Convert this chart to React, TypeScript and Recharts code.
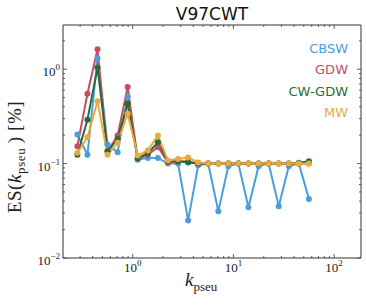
import React from "react";
import { LineChart, Line, XAxis, YAxis, ReferenceArea } from "recharts";

// k_pseu sample points (log spaced)
const K = [
  0.282, 0.355, 0.447, 0.562, 0.708, 0.891, 1.12, 1.41, 1.78, 2.24, 2.82, 3.55,
  4.47, 5.62, 7.08, 8.91, 11.2, 14.1, 17.8, 22.4, 28.2, 35.5, 44.7, 56.2,
];

const CBSW = [
  0.203, 0.124, 1.31, 0.159, 0.132, 0.515, 0.11, 0.115, 0.115, 0.1, 0.1, 0.025,
  0.096, 0.1, 0.0313, 0.094, 0.1, 0.0345, 0.094, 0.1, 0.0353, 0.094, 0.1, 0.0423,
];
const GDW = [
  0.153, 0.55, 1.63, 0.135, 0.198, 0.647, 0.112, 0.124, 0.15, 0.103, 0.105,
  0.106, 0.1, 0.1, 0.1, 0.1, 0.1, 0.1, 0.1, 0.1, 0.1, 0.1, 0.1, 0.1,
];
const CWGDW = [
  0.124, 0.292, 1.04, 0.135, 0.183, 0.43, 0.115, 0.128, 0.168, 0.106, 0.106,
  0.103, 0.1, 0.1, 0.1, 0.1, 0.1, 0.1, 0.1, 0.1, 0.1, 0.1, 0.102, 0.106,
];
const MW = [
  0.13, 0.19, 0.457, 0.124, 0.166, 0.338, 0.122, 0.138, 0.198, 0.108, 0.112,
  0.116, 0.103, 0.1, 0.1, 0.1, 0.1, 0.1, 0.1, 0.1, 0.1, 0.1, 0.1, 0.1,
];

const X_TICKS = [
  0.3, 0.4, 0.5, 0.6, 0.7, 0.8, 0.9, 1, 2, 3, 4, 5, 6, 7, 8, 9, 10, 20, 30, 40,
  50, 60, 70, 80, 90, 100,
];
const Y_TICKS = [
  0.01, 0.02, 0.03, 0.04, 0.05, 0.06, 0.07, 0.08, 0.09, 0.1, 0.2, 0.3, 0.4, 0.5,
  0.6, 0.7, 0.8, 0.9, 1, 2,
];

const X_DOMAIN = [0.203, 185];
const Y_DOMAIN = [0.01, 2.94];

const SERIES = [
  { key: "CBSW", name: "CBSW", color: "#4a9edb" },
  { key: "GDW", name: "GDW", color: "#c84c62" },
  { key: "CWGDW", name: "CW-GDW", color: "#1f6e3b" },
  { key: "MW", name: "MW", color: "#eaaa3e" },
];

const data = K.map((k, i) => ({
  k,
  CBSW: CBSW[i],
  GDW: GDW[i],
  CWGDW: CWGDW[i],
  MW: MW[i],
}));

const W = 366;
const H = 306;
const PLOT = { left: 63, right: 361, top: 25, bottom: 258 };
const SERIF = "'Liberation Serif', serif";
const SANS = "'DejaVu Sans', sans-serif";
const AXIS = "#333";

const isMajor = (v: number) =>
  Math.abs(Math.log10(v) - Math.round(Math.log10(v))) < 1e-9;

function XTick({ x, y, payload }: any) {
  const v = payload.value;
  const major = isMajor(v);
  const len = major ? 4 : 2;
  return (
    <g>
      <line x1={x} x2={x} y1={y} y2={y - len} stroke={AXIS} strokeWidth={0.8} />
      <line x1={x} x2={x} y1={PLOT.top} y2={PLOT.top + len} stroke={AXIS} strokeWidth={0.8} />
      {major && (
        <text x={x} y={y + 14} textAnchor="middle" fontFamily={SERIF} fontSize={13} fill="#222">
          <tspan>10</tspan>
          <tspan dy={-6} fontSize={9}>{Math.round(Math.log10(v))}</tspan>
        </text>
      )}
    </g>
  );
}

function YTick({ x, y, payload }: any) {
  const v = payload.value;
  const major = isMajor(v);
  const len = major ? 4 : 2;
  const exp = Math.round(Math.log10(v));
  return (
    <g>
      <line x1={x} x2={x + len} y1={y} y2={y} stroke={AXIS} strokeWidth={0.8} />
      <line x1={PLOT.right} x2={PLOT.right - len} y1={y} y2={y} stroke={AXIS} strokeWidth={0.8} />
      {major && (
        <text x={x - 3} y={y + 7} textAnchor="end" fontFamily={SERIF} fontSize={13} fill="#222">
          <tspan>10</tspan>
          <tspan dy={-6} fontSize={9}>{exp < 0 ? "\u2212" + Math.abs(exp) : exp}</tspan>
        </text>
      )}
    </g>
  );
}

// x-axis title plus the coloured series names (matplotlib-style text legend)
function XLabel() {
  return (
    <g>
      <text x={185} y={286} fontFamily={SERIF} fill="#222">
        <tspan fontSize={19} fontStyle="italic">k</tspan>
        <tspan fontSize={13} dy={5}>pseu</tspan>
      </text>
      {SERIES.map((s, i) => (
        <text
          key={s.key}
          x={348}
          y={53 + i * 21.3}
          textAnchor="end"
          fontFamily={SANS}
          fontSize={13}
          fill={s.color}
        >
          {s.name}
        </text>
      ))}
    </g>
  );
}

function YLabel() {
  return (
    <text
      x={0}
      y={0}
      transform="translate(21,157) rotate(-90)"
      textAnchor="middle"
      fontFamily={SERIF}
      fontSize={19}
      letterSpacing={0.6}
      fill="#222"
    >
      <tspan>ES(</tspan>
      <tspan fontStyle="italic">k</tspan>
      <tspan fontSize={13} dy={4}>pseu</tspan>
      <tspan dy={-4}>{"\u2009) [%]"}</tspan>
    </text>
  );
}

export default function App() {
  return (
    <div style={{ position: "absolute", left: 0, top: 0, width: W, height: H, background: "#fff" }}>
      <div
        style={{
          position: "absolute",
          left: PLOT.left,
          width: PLOT.right - PLOT.left,
          top: 6,
          textAlign: "center",
          fontFamily: SANS,
          fontSize: 17,
          lineHeight: "17px",
          color: "#111",
        }}
      >
        V97CWT
      </div>
      <LineChart
        width={W}
        height={H}
        data={data}
        margin={{ top: PLOT.top, right: W - PLOT.right, bottom: 0, left: 0 }}
      >
        <XAxis
          dataKey="k"
          type="number"
          scale="log"
          domain={X_DOMAIN}
          allowDataOverflow
          ticks={X_TICKS}
          interval={0}
          tick={<XTick />}
          tickLine={false}
          tickSize={0}
          tickMargin={0}
          axisLine={false}
          height={H - PLOT.bottom}
          label={<XLabel />}
        />
        <YAxis
          type="number"
          scale="log"
          domain={Y_DOMAIN}
          allowDataOverflow
          ticks={Y_TICKS}
          interval={0}
          tick={<YTick />}
          tickLine={false}
          tickSize={0}
          tickMargin={0}
          axisLine={false}
          width={PLOT.left}
          label={<YLabel />}
        />
        <ReferenceArea
          x1={X_DOMAIN[0]}
          x2={X_DOMAIN[1]}
          y1={Y_DOMAIN[0]}
          y2={Y_DOMAIN[1]}
          fill="none"
          stroke={AXIS}
          strokeWidth={1}
          ifOverflow="visible"
        />
        {SERIES.map((s) => (
          <Line
            key={s.key}
            type="linear"
            dataKey={s.key}
            name={s.name}
            stroke={s.color}
            strokeWidth={2}
            dot={{ r: 3, fill: s.color, stroke: s.color, strokeWidth: 0 }}
            activeDot={false}
            isAnimationActive={false}
          />
        ))}
      </LineChart>
    </div>
  );
}
